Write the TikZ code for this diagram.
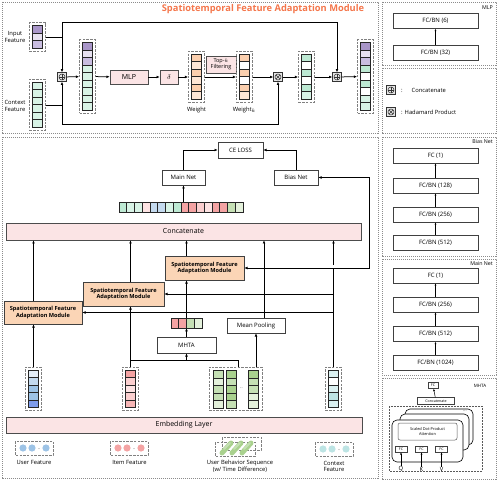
\documentclass[tikz,border=0pt]{standalone}
\usepackage{fontspec}
\setmainfont{Open Sans}
\usetikzlibrary{arrows.meta,positioning,calc}

\definecolor{boxpink}{HTML}{FBE4E5}
\definecolor{modorange}{HTML}{FBD5B6}
\definecolor{titleorange}{HTML}{F4764B}
\definecolor{pu1}{HTML}{A996C9}
\definecolor{pu2}{HTML}{E7E1F0}
\definecolor{pu3}{HTML}{C9BDE0}
\definecolor{mi1}{HTML}{D8F3E6}
\definecolor{mi2}{HTML}{BDE9D3}
\definecolor{or1}{HTML}{FBCFAE}
\definecolor{or2}{HTML}{FDE6D5}
\definecolor{bl1}{HTML}{E4EEF8}
\definecolor{bl2}{HTML}{C4DAEF}
\definecolor{bl3}{HTML}{9DC3E6}
\definecolor{rd1}{HTML}{F4A3A3}
\definecolor{rd2}{HTML}{FBCFCF}
\definecolor{rd3}{HTML}{FDE3E3}
\definecolor{gr1}{HTML}{A9D18E}
\definecolor{gr2}{HTML}{C5E0B4}
\definecolor{gr3}{HTML}{E4F1DB}
\definecolor{te1}{HTML}{DAF0F0}
\definecolor{te2}{HTML}{BDE4E4}

% vertical feature vector: name, x, y, number of cells, colours
\newcommand{\featvec}[5]{%
  \node[vecbox, minimum height={#4*7.5+6}] (#1) at (#2,#3) {};
  \foreach \c [count=\i] in {#5}
    \draw[cell, fill=\c] ($(#1.north)+(-5,{3+(\i-1)*7.5})$) rectangle ++(10,7.5);
}

\begin{document}
\begin{tikzpicture}[x=1pt, y=-1pt,
    vecbox/.style={draw=gray, dash pattern=on 2.5pt off 1.2pt, line width=0.8pt, minimum width=16pt, inner sep=0},
    cell/.style={draw=black!85, line width=0.5pt},
    panel/.style={draw=gray!90, dash pattern=on 1.2pt off 0.8pt, line width=0.8pt},
    arr/.style={-{Latex[length=3.2pt,width=2.8pt]}, line width=0.75pt},
    thinarr/.style={-{Latex[length=2.4pt,width=2pt]}, line width=0.5pt},
    pinkbox/.style={draw=gray!60!black, fill=boxpink, line width=0.6pt, inner sep=0, font=\fontsize{7}{8}\selectfont},
    plainbox/.style={draw=black!75, fill=white, line width=0.6pt, inner sep=0, font=\fontsize{6}{7}\selectfont},
    module/.style={draw=black!75, fill=modorange, line width=0.6pt, inner sep=0, align=center, font=\bfseries\fontsize{5.6}{6.6}\selectfont},
    netbox/.style={plainbox, minimum width=85pt, minimum height=15pt},
    tinybox/.style={draw=black!75, fill=white, line width=0.5pt, inner sep=0, font=\fontsize{3.6}{4.2}\selectfont},
    lbl/.style={font=\fontsize{5.8}{6.8}\selectfont, inner sep=0, align=center},
    catop/.style={draw=black!80, fill=gray!20, minimum size=9pt, inner sep=0, line width=0.5pt,
      path picture={\draw[line width=0.5pt] (path picture bounding box.center) circle (3pt);
        \draw[line width=0.5pt] ([yshift=3pt]path picture bounding box.center) -- ([yshift=-3pt]path picture bounding box.center)
          ([xshift=3pt]path picture bounding box.center) -- ([xshift=-3pt]path picture bounding box.center);}},
    hadop/.style={draw=black!80, fill=gray!20, minimum size=9pt, inner sep=0, line width=0.5pt,
      path picture={\draw[line width=0.5pt] (path picture bounding box.center) circle (3pt);
        \draw[line width=0.5pt] ([shift={(2.1pt,2.1pt)}]path picture bounding box.center) -- ([shift={(-2.1pt,-2.1pt)}]path picture bounding box.center)
          ([shift={(2.1pt,-2.1pt)}]path picture bounding box.center) -- ([shift={(-2.1pt,2.1pt)}]path picture bounding box.center);}}]
    \useasboundingbox (0,0) rectangle (498,481);

    % Adaptation module panel
    \draw[panel] (2,2) rectangle (378,133);
    \node[font=\bfseries\fontsize{9.3}{10}\selectfont, text=titleorange, inner sep=0] (title) at (263,9) {Spatiotemporal Feature Adaptation Module};

    \featvec{ifv}{37.5}{37}{3}{pu1,pu2,pu3}
    \featvec{cfv}{37.5}{105}{6}{mi1,mi1,mi1,mi1,mi1,mi1}
    \node[lbl] at (15,37) {Input\\Feature};
    \node[lbl] at (15,106) {Context\\Feature};

    \node[catop] (cat1) at (62,77) {};
    \featvec{cv1}{87.5}{76.5}{9}{pu1,pu2,pu3,mi1,mi1,mi1,mi1,mi1,mi1}
    \node[pinkbox, minimum width=38pt, minimum height=14pt] (mlp) at (129,77) {MLP};
    \node[pinkbox, minimum width=18pt, minimum height=14pt] (sig) at (169,77) {$\delta$};
    \featvec{wv}{196.5}{77}{6}{or1,or2,or1,or2,or1,or2}
    \node[pinkbox, minimum width=30pt, minimum height=17pt, align=center, font=\fontsize{5.5}{6.2}\selectfont] (topk) at (221,64.5) {Top-$k$\\Filtering};
    \featvec{wk}{244.5}{77}{6}{or1,white,or1,white,or1,or2}
    \node[lbl, below=4pt of wv] {Weight};
    \node[lbl, below=4pt of wk] {Weight$_k$};
    \node[hadop] (had) at (278,77) {};
    \featvec{mv}{306.5}{77}{6}{mi2,white,mi2,white,mi2,mi1}
    \node[catop] (cat2) at (337,77) {};
    \featvec{ov}{365.5}{76.5}{9}{pu1,pu2,pu3,mi2,white,mi2,white,mi1,mi1}

    \draw[arr] (ifv.east) -| (cat1.north);
    \draw[arr] (cfv.east) -| (cat1.south);
    \draw[arr] (cat1.north |- ifv.east) -- ++(0,-15) -| (cat2.north);
    \draw[arr] (cat1.south |- cfv.east) -- ++(0,19) -| (had.south);
    \draw[arr] (cat1) -- (cv1);
    \draw[arr] (cv1) -- (mlp);
    \draw[arr] (mlp) -- (sig);
    \draw[arr] (sig) -- (wv);
    \draw[arr] (wv) -- (wk);
    \draw[arr] (wk) -- (had);
    \draw[arr] (had) -- (mv);
    \draw[arr] (mv) -- (cat2);
    \draw[arr] (cat2) -- (ov);

    % MLP panel
    \draw[panel] (382,2) rectangle (496,65);
    \node[lbl, anchor=north east, font=\fontsize{5.3}{6}\selectfont] at (493,6) {MLP};
    \node[netbox] (mlp1) at (435.5,21) {FC/BN (6)};
    \node[netbox] (mlp2) at (435.5,53) {FC/BN (32)};
    \draw[thinarr] (mlp2) -- (mlp1);

    % Legend panel
    \draw[panel] (382,68) rectangle (496,133);
    \node[catop] (legcat) at (391,90) {};
    \node[lbl, anchor=west] at (401,90) {:\hspace{9pt}Concatenate};
    \node[hadop] (leghad) at (391,112) {};
    \node[lbl, anchor=west] at (401,112) {:\hspace{2pt}Hadamard Product};

    % Bias Net panel
    \draw[panel] (382,137) rectangle (496,256);
    \node[lbl, anchor=north east, font=\fontsize{5.3}{6}\selectfont] at (493,139) {Bias Net};
    \node[netbox] (b1) at (435.5,155.5) {FC (1)};
    \node[netbox] (b2) at (435.5,185.5) {FC/BN (128)};
    \node[netbox] (b3) at (435.5,214.5) {FC/BN (256)};
    \node[netbox] (b4) at (435.5,242.5) {FC/BN (512)};
    \draw[thinarr] (b4) -- (b3);
    \draw[thinarr] (b3) -- (b2);
    \draw[thinarr] (b2) -- (b1);

    % Main Net panel
    \draw[panel] (382,259) rectangle (496,375);
    \node[lbl, anchor=north east, font=\fontsize{5.3}{6}\selectfont] at (493,261) {Main Net};
    \node[netbox] (n1) at (435.5,275.5) {FC (1)};
    \node[netbox] (n2) at (435.5,304.5) {FC/BN (256)};
    \node[netbox] (n3) at (435.5,334) {FC/BN (512)};
    \node[netbox] (n4) at (435.5,362.5) {FC/BN (1024)};
    \draw[thinarr] (n4) -- (n3);
    \draw[thinarr] (n3) -- (n2);
    \draw[thinarr] (n2) -- (n1);

    % MHTA panel
    \draw[panel] (382,378) rectangle (496,479);
    \node[lbl, font=\fontsize{4.5}{5}\selectfont] at (480,386) {MHTA};
    \node[tinybox, minimum width=10pt, minimum height=6pt] (mfc) at (433,385.5) {FC};
    \node[tinybox, minimum width=37pt, minimum height=7pt] (mcat) at (436,401) {Concatenate};
    \draw[thinarr] (mcat) -- (mfc);
    \draw[draw=gray!70!black, dash pattern=on 2pt off 1pt, line width=0.6pt] (389,406) rectangle (482,471);
    \draw[fill=white, rounded corners=5pt, line width=0.6pt] (405,409) rectangle (473,445);
    \draw[fill=white, rounded corners=5pt, line width=0.6pt] (400,414) rectangle (469,450);
    \draw[fill=white, rounded corners=5pt, line width=0.6pt] (392,420) rectangle (463,462);
    \node[lbl, font=\fontsize{4}{4}\selectfont] at (465,411) {...};
    \node[tinybox, draw=gray!70!black, rounded corners=2pt, minimum width=59pt, minimum height=17pt, align=center, font=\fontsize{3.9}{4.8}\selectfont] (sdpa) at (427.5,431.5) {Scaled Dot-Product\\Attention};
    \node[tinybox, minimum width=12pt, minimum height=6pt] (fcq) at (401,449) {FC};
    \node[tinybox, minimum width=12pt, minimum height=6pt] (fck) at (421.5,449) {FC};
    \node[tinybox, minimum width=12pt, minimum height=6pt] (fcv) at (441.5,449) {FC};
    \node[lbl] (q) at (401,469) {Q};
    \node[lbl] (k) at (421.5,469) {K};
    \node[lbl] (v) at (441.5,469) {V};
    \draw[thinarr] (q) -- (fcq);
    \draw[thinarr] (k) -- (fck);
    \draw[thinarr] (v) -- (fcv);

    % Overall model panel
    \draw[panel] (2,137) rectangle (378,478);
    \node[plainbox, minimum width=45pt, minimum height=16pt] (ce) at (240.5,150) {CE LOSS};
    \node[plainbox, minimum width=43pt, minimum height=15pt] (mainnet) at (183.5,177.5) {Main Net};
    \node[plainbox, minimum width=44pt, minimum height=15pt] (biasnet) at (296,177.5) {Bias Net};
    \draw[arr] (mainnet.north) |- (ce.west);
    \draw[arr] (biasnet.north) |- (ce.east);

    \node[inner sep=0, minimum width=124pt, minimum height=10pt] (seqrow) at (181,207) {};
    \foreach \c [count=\i] in {mi2,mi1,mi1,rd3,bl2,bl2,mi1,mi2,rd1,rd1,rd2,rd3,rd1,rd1,gr2,gr3}
      \draw[cell, fill=\c] ($(seqrow.north west)+({(\i-1)*7.75},0)$) rectangle ++(7.75,10);
    \draw[arr] (mainnet.south |- seqrow.north) -- (mainnet.south);

    \node[pinkbox, minimum width=355pt, minimum height=17pt] (concatbar) at (183.5,231.5) {Concatenate};

    \node[module, minimum width=79pt, minimum height=24pt] (m3) at (204.5,268) {Spatiotemporal Feature\\Adaptation Module};
    \node[module, minimum width=81pt, minimum height=24pt] (m2) at (123.5,294) {Spatiotemporal Feature\\Adaptation Module};
    \node[module, minimum width=78pt, minimum height=23pt] (m1) at (43,312.5) {Spatiotemporal Feature\\Adaptation Module};

    \node[inner sep=0, minimum width=31pt, minimum height=10pt] (attnout) at (186.5,323) {};
    \foreach \c [count=\i] in {rd1,rd1,gr2,gr3}
      \draw[cell, fill=\c] ($(attnout.north west)+({(\i-1)*7.75},0)$) rectangle ++(7.75,10);
    \node[plainbox, minimum width=58pt, minimum height=15pt] (meanpool) at (256,325.5) {Mean Pooling};
    \node[plainbox, minimum width=59pt, minimum height=16pt] (mhta) at (186.5,345) {MHTA};

    % embedded features
    \featvec{uv}{33.5}{389}{5}{bl1,bl2,bl3,bl3,bl3!80!blue}
    \featvec{iv}{130.5}{389}{5}{rd1,rd2,rd3,rd2,rd1!80!white}
    \featvec{ctxv}{333.5}{389}{5}{te1,white,te1,te2,te1}
    \node[vecbox, minimum width=53pt, minimum height=43.5pt] (seqbox) at (235.5,389) {};
    \foreach \x/\cols in {218/{gr2,gr3,gr2,gr2,gr3}, 231/{gr1,gr2,gr1,gr1,gr2}, 253/{gr1,gr2,gr2,gr3,gr3}}
      \foreach \c [count=\i] in \cols
        \draw[cell, fill=\c] ({\x-5},{370.25+(\i-1)*7.5}) rectangle ++(10,7.5);
    \node[lbl, font=\fontsize{4}{4}\selectfont] at (241.5,388) {..};

    \node[pinkbox, minimum width=356pt, minimum height=16pt] (embed) at (184,425) {Embedding Layer};

    % connections to the modules
    \draw[arr] (uv.north) -- (uv.north |- m1.south);
    \draw[arr] (uv.north |- m1.north) -- (uv.north |- concatbar.south);
    \draw[arr] (iv.north) -- (iv.north |- m2.south);
    \draw[arr] (iv.north |- m2.north) -- (iv.north |- concatbar.south);
    \coordinate (split) at (186.5,360);
    \draw[line width=0.75pt] (iv.north |- split) -- (split -| 238,0) -- (238,0 |- seqbox.north);
    \draw[arr] (split) -- (mhta.south);
    \draw[arr] (mhta.north) -- (attnout.south);
    \draw[arr] (attnout.north) -- (attnout.north |- m3.south);
    \draw[arr] (attnout.north |- m3.north) -- (attnout.north |- concatbar.south);
    \draw[arr] (meanpool.south |- seqbox.north) -- (meanpool.south);
    \draw[arr] ([xshift=8pt]meanpool.north) -- ([xshift=8pt]meanpool.north |- concatbar.south);

    \coordinate (hub) at (ctxv.north |- m3.east);
    \draw[line width=0.75pt] (ctxv.north) -- (hub);
    \draw[arr] (hub) -- (m3.east);
    \draw[arr] ([yshift=3pt]hub) -- (hub |- concatbar.south);
    \draw[arr] (hub) -- ++(36,0) |- (biasnet.east);
    \draw[arr] (hub |- m2.east) -- (m2.east);
    \draw[arr] (hub |- m1.east) -- (m1.east);

    % input feature icons
    \draw[vecbox] (15,441) rectangle (53,455);
    \foreach \x in {23,32,46} \fill[bl3] (\x,448) circle (3.6pt);
    \node[lbl, font=\fontsize{4}{4}\selectfont] at (39,449) {..};
    \node[lbl] at (34,462) {User Feature};

    \draw[vecbox] (110,441) rectangle (148,455);
    \foreach \x in {118,127,141} \fill[rd1] (\x,448) circle (3.6pt);
    \node[lbl, font=\fontsize{4}{4}\selectfont] at (134,449) {..};
    \node[lbl] at (129.5,462) {Item Feature};

    \draw[vecbox] (222,437) rectangle (261,450);
    \draw[vecbox] (215,442) rectangle (255,456);
    \foreach \x in {222,232,242} \draw[gr1, line width=5pt, line cap=round] (\x,453) -- ++(9,-10);
    \foreach \x in {224,234,244} \draw[gr2, line width=2pt, line cap=round] (\x,449) -- ++(6,-6);
    \node[lbl] at (240,466.5) {User Behavior Sequence\\(w/ Time Difference)};

    \draw[vecbox] (315,442) rectangle (353,456);
    \foreach \x in {323,332,346} \fill[te2] (\x,449) circle (3.6pt);
    \node[lbl, font=\fontsize{4}{4}\selectfont] at (339,450) {..};
    \node[lbl] at (334,466.5) {Context\\Feature};
\end{tikzpicture}
\end{document}
